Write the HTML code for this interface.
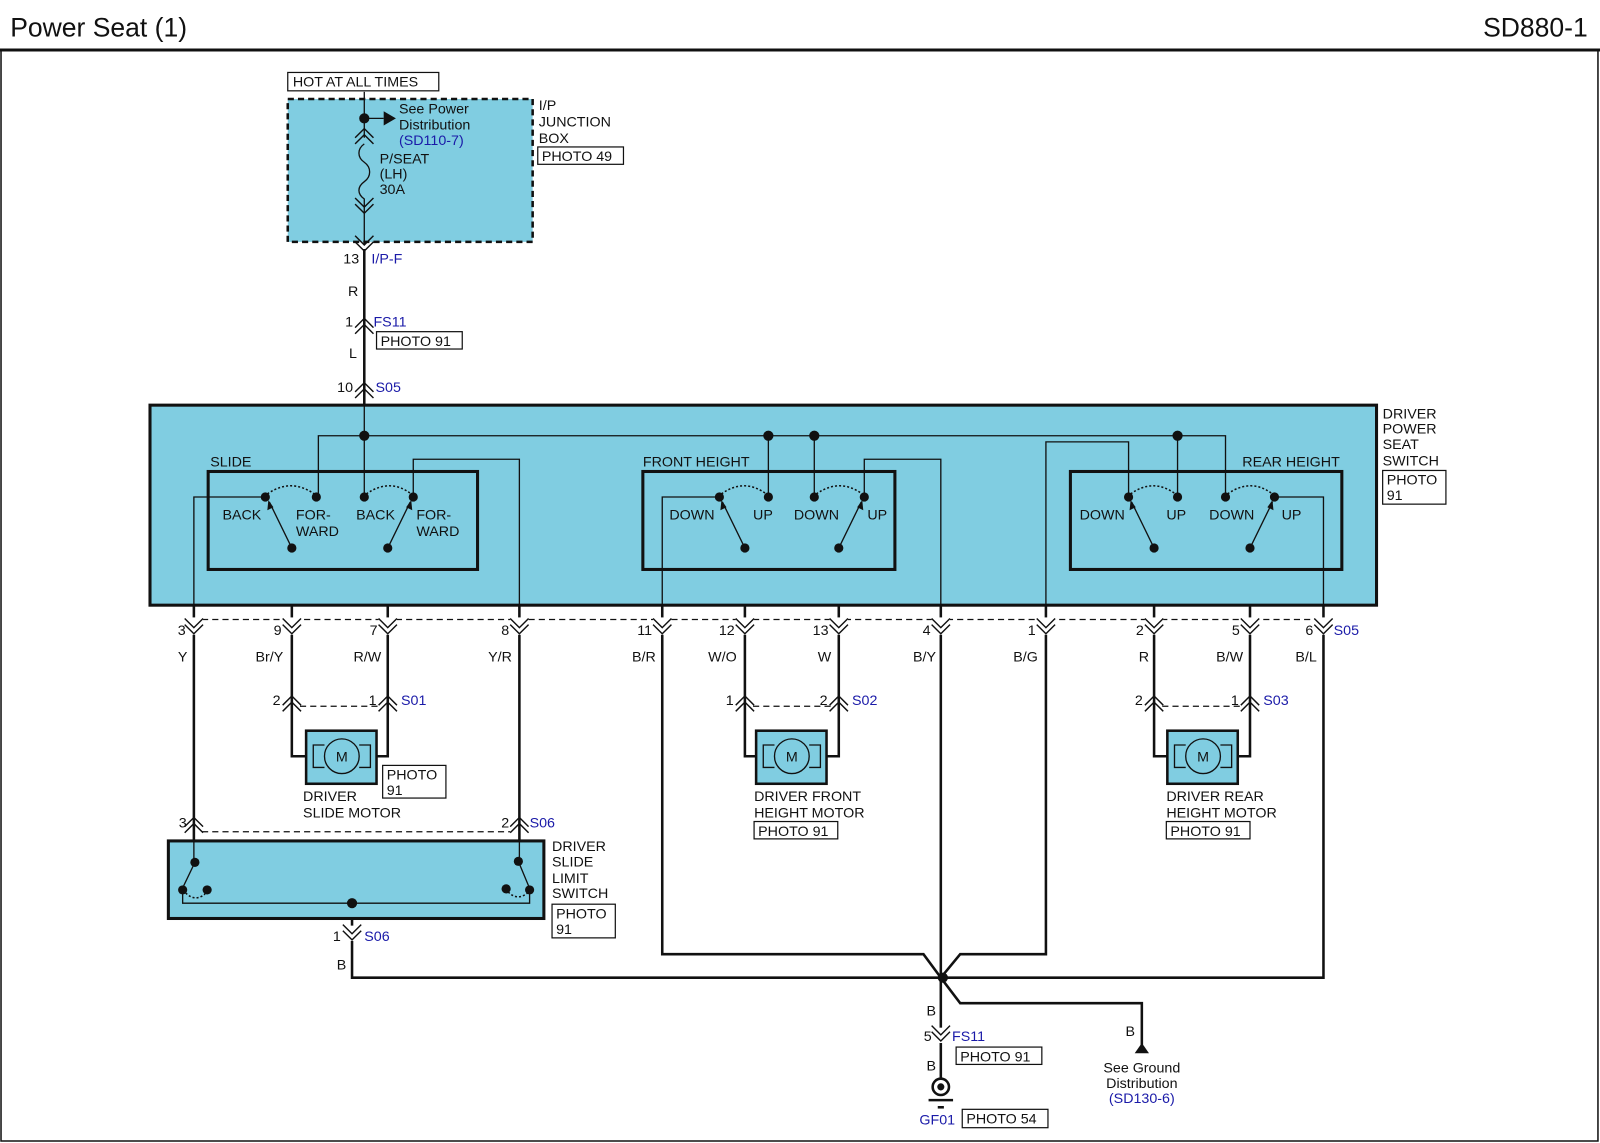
<!DOCTYPE html>
<html><head><meta charset="utf-8"><style>
html,body{margin:0;padding:0;background:#fff;}
svg{display:block;}
text{font-family:"Liberation Sans",sans-serif;font-size:14px;fill:#111;}
.b{fill:#1a1aa8;}
.w{stroke:#111;stroke-width:2.5;fill:none;}
.t{stroke:#111;stroke-width:1.3;fill:none;}
.c{stroke:#111;stroke-width:1.4;fill:none;}
.d{stroke:#111;stroke-width:1.2;fill:none;stroke-dasharray:6,4;}
.dt{stroke:#111;stroke-width:1.5;fill:none;stroke-dasharray:2,2;}
.bx{fill:#fff;stroke:#111;stroke-width:1.2;}
</style></head><body>
<svg width="1600" height="1143" viewBox="0 0 1568 1120" preserveAspectRatio="none" xmlns="http://www.w3.org/2000/svg">
<defs>
<g id="up"><polyline class="c" points="-9,5 0,-4 9,5"/><polyline class="c" points="-9,11 0,2 9,11"/></g>
<g id="dn"><polyline class="c" points="-9,-5 0,4 9,-5"/><polyline class="c" points="-9,-11 0,-2 9,-11"/></g>
</defs>
<rect x="0" y="0" width="1568" height="1120" fill="#fff"/>
<text x="10" y="36" style="font-size:26px">Power Seat (1)</text>
<text x="1556" y="36" text-anchor="end" style="font-size:26px">SD880-1</text>
<line x1="0" y1="49" x2="1568" y2="49" stroke="#111" stroke-width="3"/>
<polyline points="1,49 1,1118 1566,1118 1566,49" fill="none" stroke="#111" stroke-width="1.5"/>

<!-- junction box -->
<rect x="282" y="97" width="240" height="140" fill="#80cde1" stroke="#111" stroke-width="2.5" stroke-dasharray="6,4"/>
<rect class="bx" x="282" y="71" width="148" height="18"/>
<text x="287" y="85">HOT AT ALL TIMES</text>
<text x="528" y="108">I/P</text><text x="528" y="124">JUNCTION</text><text x="528" y="140">BOX</text>
<rect class="bx" x="527" y="144" width="84" height="17"/><text x="531" y="158">PHOTO 49</text>
<line class="t" x1="357" y1="90" x2="357" y2="135"/>
<circle cx="357" cy="116" r="5" fill="#111"/>
<line class="t" x1="357" y1="116" x2="376" y2="116"/>
<polygon points="376,109 388,116 376,123" fill="#111"/>
<text x="391" y="111">See Power</text><text x="391" y="127">Distribution</text><text x="391" y="142" class="b">(SD110-7)</text>
<use href="#up" x="357" y="130"/>
<path class="t" d="M357,141 C350,146 350,154 357,159 C364,164 364,173 357,178 C350,183 350,190 357,195 L357,240"/>
<use href="#dn" x="357" y="205"/>
<use href="#dn" x="357" y="242"/>
<text x="372" y="160">P/SEAT</text><text x="372" y="175">(LH)</text><text x="372" y="190">30A</text>
<line class="w" x1="357" y1="244" x2="357" y2="397"/>
<text x="352" y="258" text-anchor="end">13</text><text x="364" y="258" class="b">I/P-F</text>
<text x="341" y="290">R</text>
<use href="#up" x="357" y="316"/>
<text x="346" y="320" text-anchor="end">1</text><text x="366" y="320" class="b">FS11</text>
<rect class="bx" x="369" y="325" width="84" height="17"/><text x="373" y="339">PHOTO 91</text>
<text x="342" y="351">L</text>
<use href="#up" x="357" y="379"/>
<text x="346" y="384" text-anchor="end">10</text><text x="368" y="384" class="b">S05</text>

<!-- driver power seat switch -->
<rect x="147" y="397" width="1202" height="196" fill="#80cde1" stroke="#111" stroke-width="3"/>
<text x="1355" y="410">DRIVER</text><text x="1355" y="425">POWER</text><text x="1355" y="440">SEAT</text><text x="1355" y="456">SWITCH</text>
<rect class="bx" x="1355" y="461" width="62" height="33"/><text x="1359" y="475">PHOTO</text><text x="1359" y="490">91</text>
<rect x="204" y="462" width="264" height="96" fill="none" stroke="#111" stroke-width="3"/>
<rect x="630" y="462" width="247" height="96" fill="none" stroke="#111" stroke-width="3"/>
<rect x="1049" y="462" width="266" height="96" fill="none" stroke="#111" stroke-width="3"/>
<text x="206" y="457">SLIDE</text><text x="630" y="457">FRONT HEIGHT</text><text x="1313" y="457" text-anchor="end">REAR HEIGHT</text>
<polyline class="t" points="312,487 312,427 1201,427 1201,487"/>
<line class="t" x1="357" y1="397" x2="357" y2="487"/>
<line class="t" x1="753" y1="427" x2="753" y2="487"/>
<line class="t" x1="798" y1="427" x2="798" y2="487"/>
<line class="t" x1="1154" y1="427" x2="1154" y2="487"/>
<g fill="#111"><circle cx="357" cy="427" r="5"/><circle cx="753" cy="427" r="5"/><circle cx="798" cy="427" r="5"/><circle cx="1154" cy="427" r="5"/></g>
<polyline class="t" points="190,593 190,487 260,487"/>
<polyline class="t" points="405,487 405,450 509,450 509,593"/>
<polyline class="t" points="649,593 649,487 705,487"/>
<polyline class="t" points="847,487 847,450 922,450 922,593"/>
<polyline class="t" points="1025,593 1025,433 1106,433 1106,487"/>
<polyline class="t" points="1249,487 1297,487 1297,593"/>
<g fill="#111">
<circle cx="260" cy="487" r="4.5"/><circle cx="310" cy="487" r="4.5"/><circle cx="357" cy="487" r="4.5"/><circle cx="405" cy="487" r="4.5"/>
<circle cx="705" cy="487" r="4.5"/><circle cx="753" cy="487" r="4.5"/><circle cx="798" cy="487" r="4.5"/><circle cx="847" cy="487" r="4.5"/>
<circle cx="1106" cy="487" r="4.5"/><circle cx="1154" cy="487" r="4.5"/><circle cx="1201" cy="487" r="4.5"/><circle cx="1249" cy="487" r="4.5"/>
<circle cx="286" cy="537" r="4.5"/><circle cx="380" cy="537" r="4.5"/><circle cx="730" cy="537" r="4.5"/><circle cx="822" cy="537" r="4.5"/><circle cx="1131" cy="537" r="4.5"/><circle cx="1225" cy="537" r="4.5"/>
</g>
<g class="dt">
<path d="M262,484 Q285,468 308,484"/><path d="M359,484 Q382,468 403,484"/>
<path d="M707,484 Q729,468 751,484"/><path d="M800,484 Q823,468 845,484"/>
<path d="M1108,484 Q1130,468 1152,484"/><path d="M1203,484 Q1226,468 1247,484"/>
</g>
<g class="t">
<line x1="286" y1="537" x2="264" y2="492"/><line x1="380" y1="537" x2="402" y2="492"/>
<line x1="730" y1="537" x2="708" y2="492"/><line x1="822" y1="537" x2="844" y2="492"/>
<line x1="1131" y1="537" x2="1109" y2="492"/><line x1="1225" y1="537" x2="1247" y2="492"/>
</g>
<g fill="#111">
<polygon points="263,490 262,500 268,497"/><polygon points="403,490 398,497 404,500"/>
<polygon points="707,490 706,500 712,497"/><polygon points="845,490 840,497 846,500"/>
<polygon points="1108,490 1107,500 1113,497"/><polygon points="1247,490 1242,497 1248,500"/>
</g>
<text x="218" y="509">BACK</text><text x="290" y="509">FOR-</text><text x="290" y="525">WARD</text>
<text x="349" y="509">BACK</text><text x="408" y="509">FOR-</text><text x="408" y="525">WARD</text>
<text x="656" y="509">DOWN</text><text x="738" y="509">UP</text><text x="778" y="509">DOWN</text><text x="850" y="509">UP</text>
<text x="1058" y="509">DOWN</text><text x="1143" y="509">UP</text><text x="1185" y="509">DOWN</text><text x="1256" y="509">UP</text>

<!-- lower wires -->
<line class="d" x1="198" y1="607" x2="1290" y2="607"/>
<g class="w">
<line x1="190" y1="593" x2="190" y2="824"/><line x1="509" y1="593" x2="509" y2="824"/>
<polyline points="286,593 286,741 300,741"/><polyline points="380,593 380,741 369,741"/>
<polyline points="730,593 730,741 741,741"/><polyline points="822,593 822,741 810,741"/>
<polyline points="1131,593 1131,741 1144,741"/><polyline points="1225,593 1225,741 1213,741"/>
<polyline points="649,593 649,935 905,935 922,958"/>
<polyline points="1025,593 1025,935 941,935 922,958"/>
<line x1="922" y1="593" x2="922" y2="1058"/>
<polyline points="345,900 345,958 1297,958 1297,593"/>
<polyline points="922,958 941,983 1119,983 1119,1024"/>
</g>
<g fill="#fff">
<rect x="181" y="605" width="18" height="17"/><rect x="277" y="605" width="18" height="17"/><rect x="371" y="605" width="18" height="17"/><rect x="500" y="605" width="18" height="17"/><rect x="640" y="605" width="18" height="17"/><rect x="721" y="605" width="18" height="17"/><rect x="813" y="605" width="18" height="17"/><rect x="913" y="605" width="18" height="17"/><rect x="1016" y="605" width="18" height="17"/><rect x="1122" y="605" width="18" height="17"/><rect x="1216" y="605" width="18" height="17"/><rect x="1288" y="605" width="18" height="17"/>
</g>
<g>
<use href="#dn" x="190" y="617"/><use href="#dn" x="286" y="617"/><use href="#dn" x="380" y="617"/><use href="#dn" x="509" y="617"/><use href="#dn" x="649" y="617"/><use href="#dn" x="730" y="617"/><use href="#dn" x="822" y="617"/><use href="#dn" x="922" y="617"/><use href="#dn" x="1025" y="617"/><use href="#dn" x="1131" y="617"/><use href="#dn" x="1225" y="617"/><use href="#dn" x="1297" y="617"/>
</g>
<g text-anchor="end">
<text x="182" y="622">3</text><text x="276" y="622">9</text><text x="370" y="622">7</text><text x="499" y="622">8</text><text x="639" y="622">11</text><text x="720" y="622">12</text><text x="812" y="622">13</text><text x="912" y="622">4</text><text x="1015" y="622">1</text><text x="1121" y="622">2</text><text x="1215" y="622">5</text><text x="1287" y="622">6</text>
</g>
<text x="1307" y="622" class="b">S05</text>
<g text-anchor="middle">
<text x="179" y="648">Y</text><text x="264" y="648">Br/Y</text><text x="360" y="648">R/W</text><text x="490" y="648">Y/R</text><text x="631" y="648">B/R</text><text x="708" y="648">W/O</text><text x="808" y="648">W</text><text x="906" y="648">B/Y</text><text x="1005" y="648">B/G</text><text x="1121" y="648">R</text><text x="1205" y="648">B/W</text><text x="1280" y="648">B/L</text>
</g>

<line class="d" x1="294" y1="692" x2="372" y2="692"/>
<line class="d" x1="738" y1="692" x2="814" y2="692"/>
<line class="d" x1="1139" y1="692" x2="1217" y2="692"/>
<use href="#up" x="286" y="686"/><use href="#up" x="380" y="686"/>
<use href="#up" x="730" y="686"/><use href="#up" x="822" y="686"/>
<use href="#up" x="1131" y="686"/><use href="#up" x="1225" y="686"/>
<text x="275" y="691" text-anchor="end">2</text><text x="369" y="691" text-anchor="end">1</text><text x="393" y="691" class="b">S01</text>
<text x="719" y="691" text-anchor="end">1</text><text x="811" y="691" text-anchor="end">2</text><text x="835" y="691" class="b">S02</text>
<text x="1120" y="691" text-anchor="end">2</text><text x="1214" y="691" text-anchor="end">1</text><text x="1238" y="691" class="b">S03</text>

<g id="motor">
<rect x="300" y="716" width="69" height="52" fill="#80cde1" stroke="#111" stroke-width="2.5"/>
<polyline class="t" points="318,730 307,730 307,752 318,752"/>
<polyline class="t" points="352,730 363,730 363,752 352,752"/>
<circle cx="335" cy="741" r="17" fill="#80cde1" stroke="#111" stroke-width="1.3"/>
<text x="335" y="746" text-anchor="middle">M</text>
</g>
<use href="#motor" x="441" y="0"/>
<use href="#motor" x="844" y="0"/>
<rect class="bx" x="375" y="750" width="62" height="32"/><text x="379" y="764">PHOTO</text><text x="379" y="779">91</text>
<text x="297" y="785">DRIVER</text><text x="297" y="801">SLIDE MOTOR</text>
<text x="739" y="785">DRIVER FRONT</text><text x="739" y="801">HEIGHT MOTOR</text>
<rect class="bx" x="739" y="805" width="82" height="17"/><text x="743" y="819">PHOTO 91</text>
<text x="1143" y="785">DRIVER REAR</text><text x="1143" y="801">HEIGHT MOTOR</text>
<rect class="bx" x="1143" y="805" width="82" height="17"/><text x="1147" y="819">PHOTO 91</text>

<line class="d" x1="198" y1="815" x2="500" y2="815"/>
<use href="#up" x="190" y="805"/><use href="#up" x="509" y="805"/>
<text x="183" y="811" text-anchor="end">3</text><text x="499" y="811" text-anchor="end">2</text><text x="519" y="811" class="b">S06</text>
<rect x="165" y="824" width="368" height="76" fill="#80cde1" stroke="#111" stroke-width="3"/>
<line class="t" x1="190" y1="824" x2="190" y2="845"/>
<line class="t" x1="509" y1="824" x2="509" y2="844"/>
<g fill="#111"><circle cx="191" cy="845" r="4.5"/><circle cx="179" cy="872" r="4.5"/><circle cx="203" cy="872" r="4.5"/>
<circle cx="508" cy="844" r="4.5"/><circle cx="519" cy="872" r="4.5"/><circle cx="496" cy="871" r="4.5"/><circle cx="345" cy="885" r="5"/></g>
<line class="t" x1="191" y1="845" x2="180" y2="868"/><line class="t" x1="508" y1="844" x2="518" y2="868"/>
<path class="dt" d="M182,875 Q191,884 201,876"/><path class="dt" d="M498,874 Q507,883 517,875"/>
<polyline class="t" points="179,872 179,885 519,885 519,872"/>
<text x="541" y="834">DRIVER</text><text x="541" y="849">SLIDE</text><text x="541" y="865">LIMIT</text><text x="541" y="880">SWITCH</text>
<rect class="bx" x="541" y="886" width="62" height="33"/><text x="545" y="900">PHOTO</text><text x="545" y="915">91</text>
<rect x="336" y="907" width="18" height="15" fill="#fff"/>
<use href="#dn" x="345" y="917"/>
<text x="334" y="922" text-anchor="end">1</text><text x="357" y="922" class="b">S06</text>
<text x="330" y="950">B</text>

<circle cx="924" cy="958" r="5" fill="#111"/>
<text x="908" y="995">B</text>
<rect x="913" y="1007" width="18" height="15" fill="#fff"/>
<use href="#dn" x="922" y="1016"/>
<text x="913" y="1020" text-anchor="end">5</text><text x="933" y="1020" class="b">FS11</text>
<rect class="bx" x="937" y="1026" width="84" height="17"/><text x="941" y="1040">PHOTO 91</text>
<text x="908" y="1049">B</text>
<circle cx="922" cy="1065" r="8" fill="#fff" stroke="#111" stroke-width="2.5"/>
<circle cx="922" cy="1065" r="3.5" fill="#111"/>
<line x1="910" y1="1078" x2="934" y2="1078" stroke="#111" stroke-width="2.5"/>
<line x1="919" y1="1085" x2="925" y2="1085" stroke="#111" stroke-width="2.5"/>
<text x="901" y="1102" class="b">GF01</text>
<rect class="bx" x="943" y="1087" width="84" height="18"/><text x="947" y="1101">PHOTO 54</text>
<text x="1103" y="1015">B</text>
<polygon points="1112,1032 1119,1022 1126,1032" fill="#111"/>
<text x="1119" y="1051" text-anchor="middle">See Ground</text>
<text x="1119" y="1066" text-anchor="middle">Distribution</text>
<text x="1119" y="1081" text-anchor="middle" class="b">(SD130-6)</text>
</svg>
</body></html>
